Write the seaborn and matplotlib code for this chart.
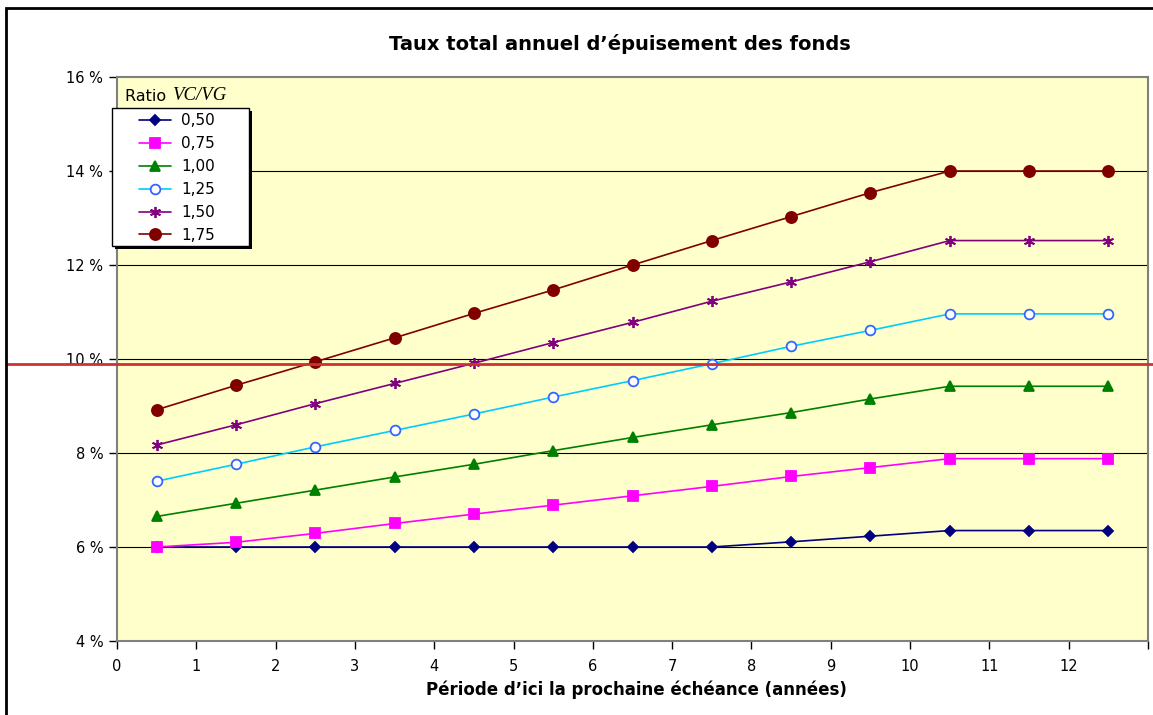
import matplotlib
matplotlib.use("Agg")
import matplotlib.pyplot as plt
import matplotlib.patches as mpatches
import pandas as pd
import seaborn as sns

# Période (milieu de chaque année) et taux par ratio VC/VG, en %
periodes = [0.5, 1.5, 2.5, 3.5, 4.5, 5.5, 6.5, 7.5, 8.5, 9.5, 10.5, 11.5, 12.5]
taux_050 = [6.00, 6.00, 6.00, 6.00, 6.00, 6.00, 6.00, 6.00, 6.11, 6.23, 6.35, 6.35, 6.35]
taux_075 = [6.00, 6.10, 6.29, 6.50, 6.70, 6.89, 7.09, 7.29, 7.50, 7.69, 7.88, 7.88, 7.88]
taux_100 = [6.65, 6.93, 7.21, 7.49, 7.76, 8.05, 8.33, 8.60, 8.86, 9.15, 9.42, 9.42, 9.42]
taux_125 = [7.40, 7.76, 8.13, 8.48, 8.83, 9.19, 9.54, 9.90, 10.27, 10.61, 10.96, 10.96, 10.96]
taux_150 = [8.17, 8.60, 9.05, 9.48, 9.91, 10.35, 10.78, 11.23, 11.64, 12.07, 12.52, 12.52, 12.52]
taux_175 = [8.92, 9.44, 9.94, 10.45, 10.97, 11.47, 12.00, 12.52, 13.03, 13.54, 14.00, 14.00, 14.00]
ratios = ["0,50", "0,75", "1,00", "1,25", "1,50", "1,75"]
seuil = 9.9  # ligne rouge

y_ticks = [4, 6, 8, 10, 12, 14, 16]
x_ticks = list(range(14))
x_labels = [str(i) for i in range(13)] + [""]

df = pd.DataFrame({"periode": periodes * 6,
                   "taux": taux_050 + taux_075 + taux_100 + taux_125 + taux_150 + taux_175,
                   "ratio": [r for r in ratios for _ in periodes]})

# style de chaque série: couleur ligne, marqueur, taille, face, bord
styles = {
    "0,50": ("#000080", "D", 5, "#000080", "#000080"),
    "0,75": ("#FF00FF", "s", 7, "#FF00FF", "#FF00FF"),
    "1,00": ("#008000", "^", 7, "#008000", "#008000"),
    "1,25": ("#00CCFF", "o", 7, "white", "#3366FF"),
    "1,50": ("#800080", (6, 2, 0), 8, "#800080", "#800080"),
    "1,75": ("#800000", "o", 8, "#800000", "#800000"),
}

sns.set_style("white")
plt.rcParams["font.family"] = ["DejaVu Sans"]
plt.rcParams["text.color"] = "black"
plt.rcParams["xtick.color"] = "black"
plt.rcParams["ytick.color"] = "black"

fig = plt.figure(figsize=(11.53, 7.15), dpi=100)
ax = fig.add_axes([0.1015, 0.1035, 0.8942, 0.7888])
ax.set_facecolor("#FFFFCC")

for r in ratios:
    c, m, ms, fc, ec = styles[r]
    sub = df[df["ratio"] == r]
    sns.lineplot(data=sub, x="periode", y="taux", ax=ax, color=c, marker=m,
                 markersize=ms, markerfacecolor=fc, markeredgecolor=ec,
                 markeredgewidth=1.3, linewidth=1.2, label=r, zorder=3)

ax.set_xlim(0, 13)
ax.set_ylim(4, 16)
ax.set_xticks(x_ticks)
ax.set_xticklabels(x_labels)
ax.set_yticks(y_ticks)
ax.set_yticklabels([f"{v} %" for v in y_ticks])
ax.tick_params(axis="both", direction="out", length=6, width=1, color="black",
               labelsize=10.5, pad=4, bottom=True, left=True)
ax.tick_params(axis="x", pad=7)
ax.set_xlabel("")
ax.set_ylabel("")
for v in y_ticks[1:-1]:
    ax.axhline(v, color="black", linewidth=0.8, zorder=1)
for s in ax.spines.values():
    s.set_color("#808080")
    s.set_linewidth(1.5)

# ligne rouge qui traverse toute la figure
ax.axhline(seuil, xmin=-0.108, xmax=1.01, color="#D03030", linewidth=2,
           clip_on=False, zorder=5)

# cadre de légende avec ombre, légende sans cadre à l'intérieur
ax.add_patch(mpatches.Rectangle((-0.0019, 0.6951), 0.1329, 0.2447,
                                transform=ax.transAxes, facecolor="black",
                                edgecolor="none", clip_on=False, zorder=5))
ax.add_patch(mpatches.Rectangle((-0.00485, 0.7004), 0.1329, 0.2447,
                                transform=ax.transAxes, facecolor="white",
                                edgecolor="black", linewidth=1, clip_on=False,
                                zorder=5.5))
leg = ax.legend(loc="upper left", bbox_to_anchor=(0.021, 0.936), borderaxespad=0,
                frameon=False, fontsize=11, labelspacing=0.52,
                handlelength=2.1, handletextpad=0.7, borderpad=0)
leg.set_zorder(6)

t = ax.text(0.008, 0.957, "Ratio ", transform=ax.transAxes, fontsize=11.5,
            ha="left", va="baseline", zorder=7)
ax.annotate("VC/VG", xy=(1, 0), xycoords=t, fontsize=13.5, ha="left", va="bottom",
            family=["Liberation Serif"], style="italic", zorder=7)

fig.text(0.538, 0.938, "Taux total annuel d’épuisement des fonds", ha="center",
         va="center", fontsize=14, fontweight="bold")
fig.text(0.552, 0.036, "Période d’ici la prochaine échéance (années)", ha="center",
         va="center", fontsize=12, fontweight="bold")

fig.add_artist(mpatches.Rectangle((6 / 1153, -0.05), 1.1, 1 - 8 / 715 + 0.05,
                                  transform=fig.transFigure, fill=False,
                                  edgecolor="black", linewidth=2))

fig.savefig("out.png", dpi=100)
